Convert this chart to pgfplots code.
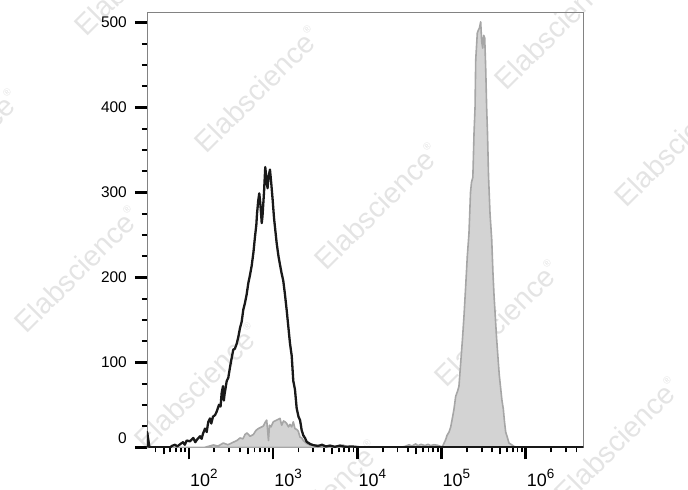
\documentclass[border=0pt]{standalone}
\usepackage{fontspec}
\setmainfont{Liberation Sans}
\usepackage{pgfplots}
\pgfplotsset{compat=1.18}
\usepackage{pgfplotstable}

\definecolor{peakfill}{RGB}{211,211,211}
\definecolor{peakline}{RGB}{166,166,166}
\definecolor{wmark}{RGB}{228,228,228}
\definecolor{axgray}{RGB}{130,130,130}

% x in log10 units, y = count
\pgfplotstableread{
lg cnt
1.5011 0
1.503 18
1.530 0
1.780 0
1.794 1.5
1.834 3
1.860 1
1.893 3.5
1.929 6
1.950 3
1.973 8
2.012 7
2.051 11
2.075 6
2.095 9
2.131 13
2.150 10
2.166 16
2.190 22
2.210 18
2.229 30
2.249 34
2.265 28
2.285 36
2.310 38
2.329 42
2.356 50
2.375 48
2.388 64
2.404 72
2.414 55
2.422 62
2.448 78
2.467 82
2.490 96
2.507 105
2.526 115
2.545 116
2.567 122
2.586 130
2.605 140
2.626 148
2.645 162
2.665 170
2.685 180
2.704 193
2.725 203
2.745 214
2.766 230
2.784 248
2.800 262
2.808 275
2.823 291
2.835 299
2.849 285
2.864 264
2.873 272
2.891 300
2.906 330
2.921 315
2.933 305
2.944 318
2.962 327
2.978 310
2.994 291
3.010 270
3.042 240
3.063 225
3.081 215
3.100 205
3.120 196
3.140 180
3.161 161
3.182 140
3.200 122
3.220 108
3.239 78
3.259 68
3.279 46
3.301 36
3.319 32
3.339 20
3.358 14
3.378 11
3.398 6.5
3.437 4
3.477 2.5
3.532 1.5
3.580 3
3.627 1
3.675 2
3.734 0.5
3.794 2
3.853 0.5
3.936 1
4.031 0
6.684 0
}\ctrl

\pgfplotstableread{
lg cnt
1.5011 0
1.503 9
1.525 0
2.190 0
2.289 2.7
2.345 1.5
2.407 5
2.463 3
2.526 6
2.570 8
2.606 11
2.641 10
2.665 15
2.689 17
2.725 13
2.764 15
2.796 20
2.823 22
2.843 23
2.883 25
2.903 29
2.923 32
2.936 18
2.944 8
2.956 26
2.974 24
3.001 30
3.042 32
3.081 34
3.101 26
3.123 31
3.140 30
3.161 28
3.182 24
3.200 27
3.220 24
3.239 30
3.259 22
3.279 21
3.298 19
3.319 12
3.339 11
3.358 8
3.398 4.5
3.437 2.7
3.517 2.5
3.580 1
3.675 0.5
3.758 1.5
3.833 2.5
3.889 0.5
4.031 0
4.507 0
4.566 1
4.613 3
4.649 1.5
4.693 4
4.720 2
4.756 3.5
4.804 2
4.839 3.5
4.871 2
4.910 3
4.946 2.5
5.009 0.5
5.049 9
5.065 14
5.089 18
5.109 24
5.130 35
5.148 45
5.168 60
5.190 66
5.207 72
5.228 100
5.249 128
5.267 155
5.287 190
5.306 225
5.326 252
5.344 300
5.356 312
5.372 318
5.386 370
5.398 400
5.406 456
5.425 488
5.437 491
5.451 494
5.465 501
5.477 478
5.489 470
5.501 485
5.513 482
5.525 445
5.536 400
5.546 370
5.558 320
5.576 275
5.596 245
5.611 205
5.623 180
5.635 160
5.653 130
5.671 105
5.686 85
5.703 69
5.718 55
5.734 45
5.748 30
5.762 18
5.781 12
5.801 5
5.833 3
5.861 1
5.896 0
6.684 0
}\stained

\newcommand{\dec}[1]{10\raisebox{8bp}{\fontsize{13.5}{13.5}\selectfont #1}}

\begin{document}
\begin{tikzpicture}
\useasboundingbox (-147bp,-42.7bp) rectangle (541bp,447.3bp);

% watermark
\foreach \wx/\wy in {110/357.3, -10/474.3, 230/240.3, 350/123.3, 470/6.3,
                     410/420.3, 530/303.3, -70/177.3, 50/60.3, 170/-56.7, -190/294.3}
  \node[rotate=45, text=wmark, inner sep=0pt,
        font=\fontsize{29}{29}\selectfont] at (\wx bp,\wy bp)
        {Elabscience\raisebox{14bp}{\fontsize{10}{10}\selectfont ®}};

\begin{axis}[
  at={(0,0)}, anchor=south west,
  scale only axis,
  width=436.3bp, height=435bp,
  xmin=1.5011, xmax=6.684,
  ymin=0, ymax=512.2,
  clip mode=individual,
  axis line style={axgray, line width=0.9bp},
  tick align=outside,
  xtick pos=bottom, ytick pos=left,
  major tick length=12bp,
  minor tick length=5bp,
  major tick style={black, line width=2.6bp},
  minor tick style={black, line width=1.8bp},
  xtick={2,3,4,5,6},
  xticklabels={},
  minor xtick={1.60206,1.77815,1.84510,1.90309,1.95424,
    2.30103,2.47712,2.60206,2.77815,2.84510,2.90309,2.95424,
    3.30103,3.47712,3.60206,3.77815,3.84510,3.90309,3.95424,
    4.30103,4.47712,4.60206,4.77815,4.84510,4.90309,4.95424,
    5.30103,5.47712,5.60206,5.77815,5.84510,5.90309,5.95424,
    6.30103,6.47712,6.60206},
  extra x ticks={1.69897,2.69897,3.69897,4.69897,5.69897},
  extra x tick labels={},
  extra x tick style={major tick length=7bp, major tick style={black, line width=2.2bp}},
  ytick={100,200,300,400,500},
  yticklabels={100,200,300,400,500},
  minor ytick={25,50,75,125,150,175,225,250,275,325,350,375,425,450,475},
  extra y ticks={0},
  extra y tick labels={0},
  extra y tick style={yticklabel style={yshift=9bp}},
  yticklabel style={font=\fontsize{15.5}{15.5}\selectfont, anchor=east, inner sep=0pt, xshift=-8bp},
]
\addplot[fill=peakfill, draw=peakline, line width=1.6bp, line join=round]
  table[x=lg, y=cnt] {\stained} \closedcycle;
\addplot[draw=black!90, line width=2.3bp, line join=round]
  table[x=lg, y=cnt] {\ctrl};
% decade labels, set a little right of their ticks as in the original
\pgfplotsinvokeforeach{2,3,4,5,6}{
  \node[anchor=base west, inner sep=0pt, xshift=1bp, yshift=-39.4bp,
        font=\fontsize{18}{18}\selectfont] at (axis cs:#1,0) {\dec{#1}};
}
\end{axis}
\end{tikzpicture}
\end{document}
